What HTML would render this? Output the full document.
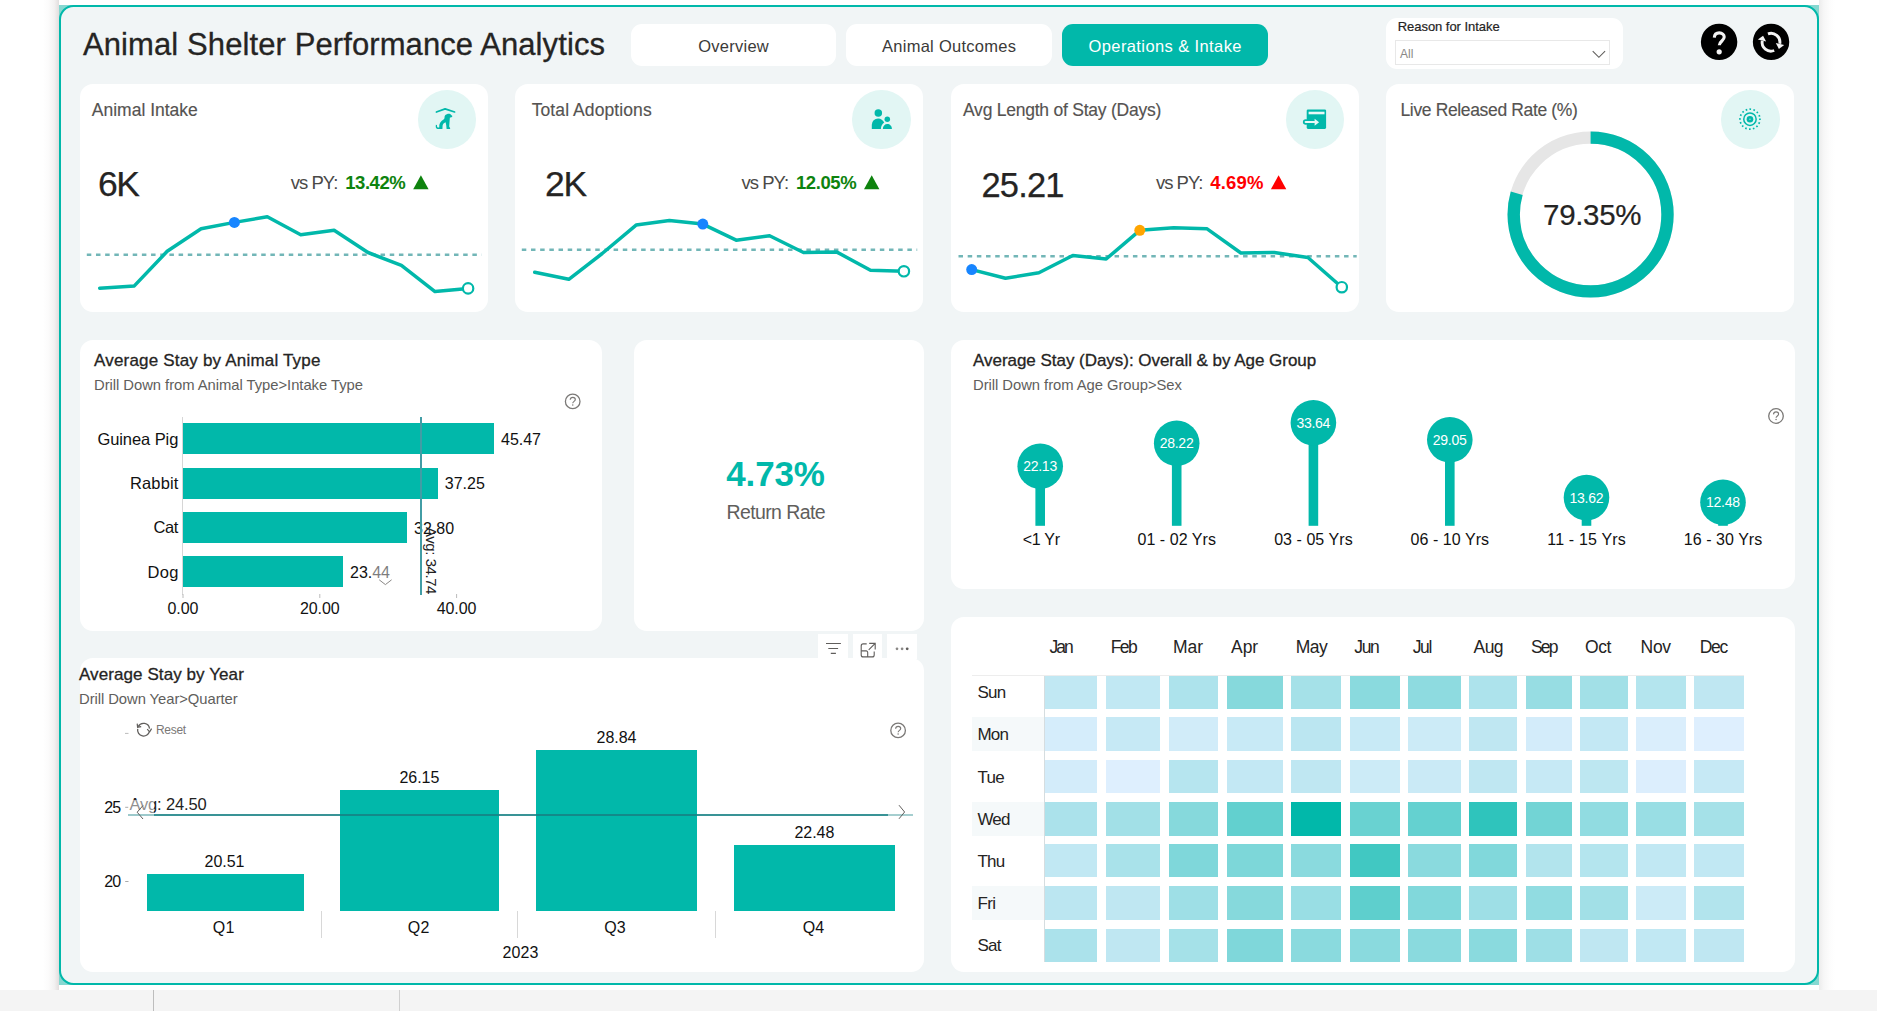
<!DOCTYPE html>
<html><head><meta charset="utf-8"><title>Animal Shelter Performance Analytics</title>
<style>
html,body{margin:0;padding:0;}
body{width:1877px;height:1011px;position:relative;overflow:hidden;background:#fff;font-family:"Liberation Sans",sans-serif;}
.t{position:absolute;white-space:nowrap;}
.b{position:absolute;box-sizing:border-box;}
.ov{position:absolute;left:0;top:0;pointer-events:none;}
</style></head><body>
<div class="b" style="left:43px;top:0px;width:16px;height:990px;background:linear-gradient(to right,rgba(226,222,222,0) 0%,rgba(226,222,222,0.12) 35%,rgba(226,222,222,0.4) 70%,rgba(226,222,222,1) 100%);border-radius:0px;"></div>
<div class="b" style="left:1819px;top:0px;width:16px;height:990px;background:linear-gradient(to left,rgba(236,236,236,0) 0%,rgba(236,236,236,0.15) 35%,rgba(236,236,236,0.45) 70%,rgba(236,236,236,1) 100%);border-radius:0px;"></div>
<div class="b" style="left:0px;top:990px;width:1877px;height:21px;background:#F4F4F4;border-radius:0px;"></div>
<div class="b" style="left:153px;top:990px;width:1px;height:21px;background:#BDBDBD;border-radius:0px;"></div>
<div class="b" style="left:399px;top:990px;width:1px;height:21px;background:#D0D0D0;border-radius:0px;"></div>
<div class="b" style="left:59px;top:5px;width:1760px;height:980px;background:#86D8D1;border-radius:0px;"></div>
<div class="b" style="left:59px;top:5px;width:1760px;height:980px;background:#F1F5F6;border-radius:14.5px;border:2px solid #01B8AA;"></div>
<div class="t" style="left:83.00px;top:28.66px;font-size:31px;line-height:31px;color:#252423;letter-spacing:0.096px;-webkit-text-stroke:0.3px #252423;">Animal Shelter Performance Analytics</div>
<div class="b" style="left:631px;top:24px;width:205px;height:42px;background:#fff;border-radius:11px;"></div>
<div class="t" style="left:698.25px;top:37.93px;font-size:16.5px;line-height:16.5px;color:#3b3a39;letter-spacing:0.248px;">Overview</div>
<div class="b" style="left:846px;top:24px;width:206px;height:42px;background:#fff;border-radius:11px;"></div>
<div class="t" style="left:882.00px;top:37.93px;font-size:16.5px;line-height:16.5px;color:#3b3a39;letter-spacing:0.270px;">Animal Outcomes</div>
<div class="b" style="left:1062px;top:24px;width:206px;height:42px;background:#01B8AA;border-radius:11px;"></div>
<div class="t" style="left:1088.50px;top:37.93px;font-size:16.5px;line-height:16.5px;color:#fff;letter-spacing:0.398px;">Operations &amp; Intake</div>
<div class="b" style="left:1386px;top:18px;width:237px;height:50.5px;background:#fff;border-radius:11px;"></div>
<div class="t" style="left:1397.70px;top:19.80px;font-size:13px;line-height:13px;color:#252423;letter-spacing:-0.039px;-webkit-text-stroke:0.2px #252423;">Reason for Intake</div>
<div class="b" style="left:1395px;top:40px;width:215px;height:24.5px;background:#fff;border-radius:0px;border:1px solid #E8E8E8;"></div>
<div class="t" style="left:1400.00px;top:47.84px;font-size:12px;line-height:12px;color:#8a8886;">All</div>
<svg class="ov" width="1877" height="1011">
<circle cx="1719.1" cy="41.9" r="18.2" fill="#000"/>
<path d="M1714.3,37.6 C1714.5,34.3 1716.6,32.9 1719.3,32.9 C1722.2,32.9 1724.2,34.7 1724.2,37.1 C1724.2,40.6 1719.4,41.4 1719.3,45.2" fill="none" stroke="#F4F4F4" stroke-width="3.1"/>
<circle cx="1719.2" cy="51.8" r="2.6" fill="#F4F4F4"/>
<circle cx="1771.05" cy="41.9" r="18.2" fill="#000"/>
<g transform="rotate(13 1771 42.2)"><path d="M1766.15,34.74 A8.9,8.9 0 0 1 1779.89,41.73" fill="none" stroke="#F4F4F4" stroke-width="2.9"/>
<path d="M1775.98,49.58 A8.9,8.9 0 0 1 1762.11,42.67" fill="none" stroke="#F4F4F4" stroke-width="2.9"/>
<polygon points="1775.9,42.0 1784.5,42.0 1780.2,47.0" fill="#F4F4F4"/>
<polygon points="1757.6,42.6 1766.1,42.6 1761.8,37.6" fill="#F4F4F4"/></g>
<polyline points="1592.7,51.2 1598.9,57.3 1605.1,51.2" fill="none" stroke="#605E5C" stroke-width="1.1"/>
</svg>
<div class="b" style="left:80px;top:84px;width:408px;height:228.2px;background:#fff;border-radius:13px;"></div>
<div class="t" style="left:91.80px;top:101.69px;font-size:17.5px;line-height:17.5px;color:#555351;-webkit-text-stroke:0.15px #555351;">Animal Intake</div>
<div class="b" style="left:417.6px;top:90.2px;width:58.6px;height:58.6px;border-radius:50%;background:#E2F6F4;"></div>
<div class="t" style="left:98.00px;top:167.35px;font-size:35.5px;line-height:35.5px;color:#252423;letter-spacing:-1.422px;-webkit-text-stroke:0.25px #252423;">6K</div>
<div class="t" style="left:290.80px;top:173.54px;font-size:18.5px;line-height:18.5px;color:#4a4947;letter-spacing:-0.988px;">vs PY:</div>
<div class="t" style="left:345.20px;top:173.54px;font-size:18.5px;line-height:18.5px;color:#0E830E;font-weight:bold;letter-spacing:-0.429px;">13.42%</div>
<svg class="ov" width="1877" height="1011"><polygon points="413.2,189.2 428.6,189.2 420.9,175.2" fill="#0E830E"/></svg>
<div class="b" style="left:515px;top:84px;width:408px;height:228.2px;background:#fff;border-radius:13px;"></div>
<div class="t" style="left:531.70px;top:101.69px;font-size:17.5px;line-height:17.5px;color:#555351;letter-spacing:0.093px;-webkit-text-stroke:0.15px #555351;">Total Adoptions</div>
<div class="b" style="left:852.2px;top:90.2px;width:58.6px;height:58.6px;border-radius:50%;background:#E2F6F4;"></div>
<div class="t" style="left:545.00px;top:167.35px;font-size:35.5px;line-height:35.5px;color:#252423;letter-spacing:-1.122px;-webkit-text-stroke:0.25px #252423;">2K</div>
<div class="t" style="left:741.60px;top:173.54px;font-size:18.5px;line-height:18.5px;color:#4a4947;letter-spacing:-0.988px;">vs PY:</div>
<div class="t" style="left:796.00px;top:173.54px;font-size:18.5px;line-height:18.5px;color:#0E830E;font-weight:bold;letter-spacing:-0.429px;">12.05%</div>
<svg class="ov" width="1877" height="1011"><polygon points="864.0,189.2 879.4,189.2 871.7,175.2" fill="#0E830E"/></svg>
<div class="b" style="left:951px;top:84px;width:408px;height:228.2px;background:#fff;border-radius:13px;"></div>
<div class="t" style="left:963.00px;top:101.69px;font-size:17.5px;line-height:17.5px;color:#555351;letter-spacing:-0.236px;-webkit-text-stroke:0.15px #555351;">Avg Length of Stay (Days)</div>
<div class="b" style="left:1285.9px;top:90.2px;width:58.6px;height:58.6px;border-radius:50%;background:#E2F6F4;"></div>
<div class="t" style="left:981.50px;top:168.20px;font-size:34.5px;line-height:34.5px;color:#252423;letter-spacing:-0.834px;-webkit-text-stroke:0.25px #252423;">25.21</div>
<div class="t" style="left:1155.90px;top:173.54px;font-size:18.5px;line-height:18.5px;color:#4a4947;letter-spacing:-0.988px;">vs PY:</div>
<div class="t" style="left:1210.30px;top:173.54px;font-size:18.5px;line-height:18.5px;color:#FF0000;font-weight:bold;letter-spacing:0.186px;">4.69%</div>
<svg class="ov" width="1877" height="1011"><polygon points="1270.9,189.2 1286.3,189.2 1278.6,175.2" fill="#FF0000"/></svg>
<div class="b" style="left:1386px;top:84px;width:408px;height:228.2px;background:#fff;border-radius:13px;"></div>
<div class="t" style="left:1400.50px;top:101.69px;font-size:17.5px;line-height:17.5px;color:#555351;letter-spacing:-0.358px;-webkit-text-stroke:0.15px #555351;">Live Released Rate (%)</div>
<div class="b" style="left:1721.1px;top:90.2px;width:58.6px;height:58.6px;border-radius:50%;background:#E2F6F4;"></div>
<svg class="ov" width="1877" height="1011" viewBox="0 0 1877 1011">
<line x1="86.8" y1="254.8" x2="481.7" y2="254.8" stroke="#72B6B7" stroke-width="2.6" stroke-dasharray="4.5 4.68"/>
<polyline points="99.7,288.2 134.3,285.9 167.2,251.3 201.1,228.8 234.4,222.4 267.3,216.7 300.7,234.7 334.1,230.3 368.0,252.5 401.4,265.4 435.0,291.6 468.1,288.4" fill="none" stroke="#01B8AA" stroke-width="3.5" stroke-linejoin="round" stroke-linecap="round"/>
<circle cx="234.4" cy="222.4" r="5.5" fill="#1785FF"/>
<circle cx="468.1" cy="288.4" r="5.2" fill="#fff" stroke="#01B8AA" stroke-width="2.2"/>
<line x1="521.8" y1="249.8" x2="917.2" y2="249.8" stroke="#72B6B7" stroke-width="2.6" stroke-dasharray="4.5 4.68"/>
<polyline points="534.7,272.3 568.8,279.3 602.2,253.5 636.1,225.1 669.4,220.4 702.8,224.1 736.2,240.2 769.6,235.7 803.5,252.5 836.9,252.1 870.5,270.3 903.9,271.3" fill="none" stroke="#01B8AA" stroke-width="3.5" stroke-linejoin="round" stroke-linecap="round"/>
<circle cx="702.8" cy="224.1" r="5.5" fill="#1785FF"/>
<circle cx="903.9" cy="271.3" r="5.2" fill="#fff" stroke="#01B8AA" stroke-width="2.2"/>
<line x1="958.5" y1="256.3" x2="1356.7" y2="256.3" stroke="#72B6B7" stroke-width="2.6" stroke-dasharray="4.5 4.68"/>
<polyline points="971.7,269.6 1005.5,278.3 1038.9,272.8 1072.8,255.5 1106.2,259.0 1139.8,230.3 1173.7,227.8 1207.1,228.8 1240.9,253.0 1274.3,252.5 1307.9,257.5 1341.8,287.2" fill="none" stroke="#01B8AA" stroke-width="3.5" stroke-linejoin="round" stroke-linecap="round"/>
<circle cx="971.7" cy="269.6" r="5.5" fill="#1785FF"/>
<circle cx="1139.8" cy="230.3" r="5.5" fill="#FFA500"/>
<circle cx="1341.8" cy="287.2" r="5.2" fill="#fff" stroke="#01B8AA" stroke-width="2.2"/>
<circle cx="1590.6" cy="214.5" r="76.9" fill="none" stroke="#E6E6E6" stroke-width="12.4"/>
<circle cx="1590.6" cy="214.5" r="76.9" fill="none" stroke="#01B8AA" stroke-width="12.4" stroke-dasharray="383.40 483.18" transform="rotate(-90 1590.6 214.5)"/>
</svg>
<div class="t" style="left:1543.05px;top:200.33px;font-size:29.5px;line-height:29.5px;color:#252423;letter-spacing:-0.311px;-webkit-text-stroke:0.2px #252423;">79.35%</div>
<svg class="ov" width="1877" height="1011">
<g transform="translate(415,88)" fill="#01B8AA">
<path d="M21.4,24.0 L30.1,20.9 L39.6,24.0" fill="none" stroke="#01B8AA" stroke-width="1.7" stroke-linecap="round" stroke-linejoin="round"/>
<path d="M32.0,26.2 C33.5,25.4 35.5,25.8 36.2,27.0 L37.4,28.0 C37.2,29.2 36,29.6 34.9,29.6 L34.6,33 L34.2,38.5 L35.2,40.3 L35,40.9 L31.6,40.9 L31.2,37 L30.6,34.2 C29.5,34.6 28,35.5 27.6,37.5 L27.4,40.9 L22.5,40.9 C20.8,40.9 20.4,38.6 20.9,36.8 L22.0,36.9 C21.8,38.4 22.2,39.6 23.6,39.5 L24.2,39.4 C24.0,36 25.5,33.2 28.5,31.6 C29.6,31 29.5,29.5 29.6,28.4 C29.8,27.2 30.8,26.5 32.0,26.2 Z"/>
</g>
<g transform="translate(850,88)" fill="#01B8AA">
<circle cx="28.3" cy="24.9" r="3.75"/>
<path d="M21.8,41 L21.8,36.7 A6.3,6.3 0 0 1 28.1,30.4 C31,30.4 33,32 34.2,34.6 C32.2,36 31,38.5 30.9,41 Z"/>
<circle cx="37.3" cy="31.2" r="2.75"/>
<path d="M32.8,41 C32.8,38 34.8,36 37.35,36 C39.9,36 41.9,38 41.9,41 Z"/>
</g>
<g transform="translate(1283,88)">
<rect x="23.7" y="21.5" width="19.4" height="19.4" rx="1.3" fill="#01B8AA"/>
<rect x="19.9" y="31.2" width="6" height="5.6" rx="2.8" fill="#01B8AA"/>
<rect x="25.6" y="23.7" width="15.9" height="2.6" fill="#E9F8F7"/>
<rect x="21.6" y="32.9" width="11" height="2.2" rx="1.1" fill="#E9F8F7"/>
<polygon points="31.6,30.7 36.1,34.2 31.6,37.7" fill="#E9F8F7"/>
</g>
<g transform="translate(1718,88)">
<circle cx="31.96" cy="31.2" r="3.3" fill="#01B8AA"/>
<circle cx="31.96" cy="31.2" r="0.8" fill="#9ADFDA"/>
<circle cx="31.96" cy="31.2" r="6.2" fill="none" stroke="#01B8AA" stroke-width="1.5"/>
<circle cx="31.96" cy="31.2" r="10" fill="none" stroke="#01B8AA" stroke-width="1.7" stroke-dasharray="1.6 2.327" transform="rotate(-4.3 31.96 31.2)"/>
</g>
</svg>
<div class="b" style="left:80px;top:340px;width:522px;height:290.5px;background:#fff;border-radius:13px;"></div>
<div class="t" style="left:94.00px;top:351.61px;font-size:17px;line-height:17px;color:#252423;letter-spacing:0.190px;-webkit-text-stroke:0.3px #252423;">Average Stay by Animal Type</div>
<div class="t" style="left:94.00px;top:378.17px;font-size:14.8px;line-height:14.8px;color:#605E5C;letter-spacing:-0.040px;">Drill Down from Animal Type&gt;Intake Type</div>
<svg class="ov" width="1877" height="1011"><g transform="translate(572.7,401.4)" fill="none" stroke="#7b7977"><circle cx="0" cy="0" r="7.3" fill="#fff" stroke-width="1.3"/><path d="M-2.5,-1.6 C-2.4,-3.3 -1.2,-4.1 0.1,-4.1 C1.6,-4.1 2.6,-3.2 2.6,-1.9 C2.6,-0.1 0.1,0 0.05,1.8" stroke-width="1.15"/><circle cx="0.05" cy="3.6" r="0.75" fill="#7b7977" stroke="none"/></g></svg>
<div class="b" style="left:182.3px;top:417px;width:1px;height:178px;background:#D6D6D6;border-radius:0px;"></div>
<div class="b" style="left:183px;top:423.2px;width:311.2px;height:31.2px;background:#01B8AA;border-radius:0px;"></div>
<div class="t" style="left:97.40px;top:430.63px;font-size:16.5px;line-height:16.5px;color:#111;letter-spacing:-0.071px;">Guinea Pig</div>
<div class="t" style="left:501.00px;top:431.76px;font-size:16px;line-height:16px;color:#111;letter-spacing:-0.010px;">45.47</div>
<div class="b" style="left:183px;top:467.6px;width:255px;height:31.2px;background:#01B8AA;border-radius:0px;"></div>
<div class="t" style="left:129.90px;top:475.03px;font-size:16.5px;line-height:16.5px;color:#111;letter-spacing:0.161px;">Rabbit</div>
<div class="t" style="left:444.80px;top:476.16px;font-size:16px;line-height:16px;color:#111;letter-spacing:-0.010px;">37.25</div>
<div class="b" style="left:183px;top:512px;width:224.3px;height:31.2px;background:#01B8AA;border-radius:0px;"></div>
<div class="t" style="left:153.40px;top:519.43px;font-size:16.5px;line-height:16.5px;color:#111;letter-spacing:-0.339px;">Cat</div>
<div class="t" style="left:414.10px;top:520.56px;font-size:16px;line-height:16px;color:#111;letter-spacing:-0.010px;">32.80</div>
<div class="b" style="left:183px;top:556.2px;width:160.2px;height:31.2px;background:#01B8AA;border-radius:0px;"></div>
<div class="t" style="left:147.40px;top:563.63px;font-size:16.5px;line-height:16.5px;color:#111;letter-spacing:0.365px;">Dog</div>
<div class="t" style="left:350.00px;top:564.76px;font-size:16px;line-height:16px;color:#111;letter-spacing:-0.010px;">23.44</div>
<div class="b" style="left:420px;top:417px;width:1.5px;height:177.5px;background:#429DA5;border-radius:0px;"></div>
<div class="t" style="left:425.6px;top:527.3px;font-size:15px;line-height:15px;color:#222;transform-origin:0 0;transform:rotate(90deg) translate(0,-12.7px);letter-spacing:-0.45px;">Avg: 34.74</div>
<div class="b" style="left:372px;top:562px;width:20px;height:18px;background:rgba(255,255,255,0.45);border-radius:0px;"></div>
<svg class="ov" width="1877" height="1011"><polyline points="379.2,579.8 385.4,584.6 391.6,579.8" fill="none" stroke="#8a8886" stroke-width="1"/><line x1="319.8" y1="594" x2="319.8" y2="598" stroke="#bbb" stroke-width="1"/><line x1="456.6" y1="594" x2="456.6" y2="598" stroke="#bbb" stroke-width="1"/><line x1="183" y1="594" x2="183" y2="598" stroke="#bbb" stroke-width="1"/></svg>
<div class="t" style="left:167.50px;top:600.66px;font-size:16px;line-height:16px;color:#111;letter-spacing:-0.047px;">0.00</div>
<div class="t" style="left:300.00px;top:600.66px;font-size:16px;line-height:16px;color:#111;letter-spacing:-0.110px;">20.00</div>
<div class="t" style="left:436.80px;top:600.66px;font-size:16px;line-height:16px;color:#111;letter-spacing:-0.110px;">40.00</div>
<div class="b" style="left:634px;top:340px;width:289.5px;height:290.5px;background:#fff;border-radius:13px;"></div>
<div class="t" style="left:726.20px;top:455.97px;font-size:35px;line-height:35px;color:#01B8AA;font-weight:bold;letter-spacing:-0.111px;">4.73%</div>
<div class="t" style="left:726.40px;top:502.69px;font-size:19.5px;line-height:19.5px;color:#605E5C;letter-spacing:-0.594px;">Return Rate</div>
<div class="b" style="left:818.2px;top:633.6px;width:29.8px;height:25px;background:#fff;border-radius:0px;"></div>
<div class="b" style="left:853px;top:633.6px;width:29px;height:25px;background:#fff;border-radius:0px;"></div>
<div class="b" style="left:886.9px;top:633.6px;width:30.2px;height:25px;background:#fff;border-radius:0px;"></div>
<svg class="ov" width="1877" height="1011" fill="none" stroke="#605E5C" stroke-width="1.1">
<path d="M826,643.5 H840.9 M828.3,648.5 H838.1 M830.8,653.4 H835.9" stroke-width="1.2"/>
<g transform="translate(0.2,0.9)"><path d="M866.5,643 H863 a2,2 0 0 0 -2,2 V654 a2,2 0 0 0 2,2 H872 a2,2 0 0 0 2,-2 V650.5"/>
<path d="M861,650 H866 a1.5,1.5 0 0 1 1.5,1.5 V656"/>
<path d="M869,642.5 H875 V648.5 M875,642.5 L868.5,649"/></g>
<g fill="#605E5C" stroke="none"><circle cx="897" cy="648.8" r="1.35" fill="#8a8886"/><circle cx="902.1" cy="648.8" r="1.35" fill="#8a8886"/><circle cx="907.2" cy="648.8" r="1.4"/></g>
</svg>
<div class="b" style="left:951px;top:340px;width:843.5px;height:249px;background:#fff;border-radius:13px;"></div>
<div class="t" style="left:973.00px;top:351.61px;font-size:17px;line-height:17px;color:#252423;letter-spacing:-0.033px;-webkit-text-stroke:0.3px #252423;">Average Stay (Days): Overall &amp; by Age Group</div>
<div class="t" style="left:973.00px;top:377.57px;font-size:14.8px;line-height:14.8px;color:#605E5C;letter-spacing:-0.042px;">Drill Down from Age Group&gt;Sex</div>
<svg class="ov" width="1877" height="1011"><g transform="translate(1776,416)" fill="none" stroke="#7b7977"><circle cx="0" cy="0" r="7.3" fill="#fff" stroke-width="1.3"/><path d="M-2.5,-1.6 C-2.4,-3.3 -1.2,-4.1 0.1,-4.1 C1.6,-4.1 2.6,-3.2 2.6,-1.9 C2.6,-0.1 0.1,0 0.05,1.8" stroke-width="1.15"/><circle cx="0.05" cy="3.6" r="0.75" fill="#7b7977" stroke="none"/></g></svg>
<svg class="ov" width="1877" height="1011" viewBox="0 0 1877 1011">
<rect x="1035.4" y="466.2" width="9.6" height="59.6" fill="#01B8AA"/>
<circle cx="1040.2" cy="466.2" r="22.8" fill="#01B8AA"/>
<rect x="1171.9" y="443.3" width="9.6" height="82.5" fill="#01B8AA"/>
<circle cx="1176.7" cy="443.3" r="22.8" fill="#01B8AA"/>
<rect x="1308.6" y="422.7" width="9.6" height="103.1" fill="#01B8AA"/>
<circle cx="1313.4" cy="422.7" r="22.8" fill="#01B8AA"/>
<rect x="1445.0" y="439.8" width="9.6" height="86.0" fill="#01B8AA"/>
<circle cx="1449.8" cy="439.8" r="22.8" fill="#01B8AA"/>
<rect x="1581.7" y="497.6" width="9.6" height="28.2" fill="#01B8AA"/>
<circle cx="1586.5" cy="497.6" r="22.8" fill="#01B8AA"/>
<rect x="1718.2" y="502.2" width="9.6" height="23.6" fill="#01B8AA"/>
<circle cx="1723" cy="502.2" r="22.8" fill="#01B8AA"/>
</svg>
<div class="t" style="left:1023.20px;top:459.25px;font-size:14px;line-height:14px;color:#fff;letter-spacing:-0.259px;">22.13</div>
<div class="t" style="left:1022.65px;top:531.76px;font-size:16px;line-height:16px;color:#111;letter-spacing:-0.225px;">&lt;1 Yr</div>
<div class="t" style="left:1159.70px;top:436.35px;font-size:14px;line-height:14px;color:#fff;letter-spacing:-0.259px;">28.22</div>
<div class="t" style="left:1137.45px;top:531.76px;font-size:16px;line-height:16px;color:#111;letter-spacing:0.053px;">01 - 02 Yrs</div>
<div class="t" style="left:1296.40px;top:415.75px;font-size:14px;line-height:14px;color:#fff;letter-spacing:-0.259px;">33.64</div>
<div class="t" style="left:1274.15px;top:531.76px;font-size:16px;line-height:16px;color:#111;letter-spacing:0.053px;">03 - 05 Yrs</div>
<div class="t" style="left:1432.80px;top:432.85px;font-size:14px;line-height:14px;color:#fff;letter-spacing:-0.259px;">29.05</div>
<div class="t" style="left:1410.55px;top:531.76px;font-size:16px;line-height:16px;color:#111;letter-spacing:0.053px;">06 - 10 Yrs</div>
<div class="t" style="left:1569.50px;top:490.65px;font-size:14px;line-height:14px;color:#fff;letter-spacing:-0.259px;">13.62</div>
<div class="t" style="left:1547.25px;top:531.76px;font-size:16px;line-height:16px;color:#111;letter-spacing:0.172px;">11 - 15 Yrs</div>
<div class="t" style="left:1706.00px;top:495.25px;font-size:14px;line-height:14px;color:#fff;letter-spacing:-0.259px;">12.48</div>
<div class="t" style="left:1683.75px;top:531.76px;font-size:16px;line-height:16px;color:#111;letter-spacing:0.053px;">16 - 30 Yrs</div>
<div class="b" style="left:80px;top:658px;width:843.5px;height:314px;background:#fff;border-radius:13px;"></div>
<div class="t" style="left:79.00px;top:665.81px;font-size:17px;line-height:17px;color:#252423;letter-spacing:0.084px;-webkit-text-stroke:0.3px #252423;">Average Stay by Year</div>
<div class="t" style="left:79.00px;top:691.87px;font-size:14.8px;line-height:14.8px;color:#605E5C;letter-spacing:-0.059px;">Drill Down Year&gt;Quarter</div>
<svg class="ov" width="1877" height="1011"><g transform="translate(898.1,730.4)" fill="none" stroke="#7b7977"><circle cx="0" cy="0" r="7.3" fill="#fff" stroke-width="1.3"/><path d="M-2.5,-1.6 C-2.4,-3.3 -1.2,-4.1 0.1,-4.1 C1.6,-4.1 2.6,-3.2 2.6,-1.9 C2.6,-0.1 0.1,0 0.05,1.8" stroke-width="1.15"/><circle cx="0.05" cy="3.6" r="0.75" fill="#7b7977" stroke="none"/></g></svg>
<svg class="ov" width="1877" height="1011" fill="none" stroke="#605E5C" stroke-width="1.3">
<path d="M138.2,726.6 A6,6 0 0 1 149.5,728.6"/><path d="M149.5,731.2 A6,6 0 0 1 137.7,728.8"/>
<path d="M147.2,729.2 L149.7,731.8 L151.6,728.6" stroke-width="1.2"/><path d="M137.2,723.6 L137.6,727.2 L141.2,726.6" stroke-width="1.2"/>
<line x1="125" y1="733.4" x2="128.5" y2="733.4" stroke="#bbb" stroke-width="1"/>
<line x1="125.2" y1="807.3" x2="128.5" y2="807.3" stroke="#aaa" stroke-width="1"/>
<line x1="125.2" y1="881.5" x2="128.5" y2="881.5" stroke="#aaa" stroke-width="1"/>
</svg>
<div class="t" style="left:155.90px;top:724.04px;font-size:12px;line-height:12px;color:#7a7876;letter-spacing:-0.262px;">Reset</div>
<div class="t" style="left:104.30px;top:800.06px;font-size:16px;line-height:16px;color:#111;letter-spacing:-0.898px;">25</div>
<div class="t" style="left:104.30px;top:874.46px;font-size:16px;line-height:16px;color:#111;letter-spacing:-0.898px;">20</div>
<div class="b" style="left:147px;top:873.8px;width:156.5px;height:36.8px;background:#01B8AA;border-radius:0px;"></div>
<div class="t" style="left:204.60px;top:853.56px;font-size:16px;line-height:16px;color:#111;letter-spacing:-0.060px;">20.51</div>
<div class="t" style="left:212.85px;top:919.66px;font-size:16px;line-height:16px;color:#111;letter-spacing:0.156px;">Q1</div>
<div class="b" style="left:340px;top:790px;width:158.8px;height:120.6px;background:#01B8AA;border-radius:0px;"></div>
<div class="t" style="left:399.50px;top:769.76px;font-size:16px;line-height:16px;color:#111;letter-spacing:-0.060px;">26.15</div>
<div class="t" style="left:407.85px;top:919.66px;font-size:16px;line-height:16px;color:#111;letter-spacing:0.156px;">Q2</div>
<div class="b" style="left:535.9px;top:750.1px;width:161.2px;height:160.5px;background:#01B8AA;border-radius:0px;"></div>
<div class="t" style="left:596.60px;top:729.86px;font-size:16px;line-height:16px;color:#111;letter-spacing:-0.060px;">28.84</div>
<div class="t" style="left:604.25px;top:919.66px;font-size:16px;line-height:16px;color:#111;letter-spacing:0.156px;">Q3</div>
<div class="b" style="left:733.9px;top:844.8px;width:161.0px;height:65.8px;background:#01B8AA;border-radius:0px;"></div>
<div class="t" style="left:794.50px;top:824.56px;font-size:16px;line-height:16px;color:#111;letter-spacing:-0.060px;">22.48</div>
<div class="t" style="left:802.65px;top:919.66px;font-size:16px;line-height:16px;color:#111;letter-spacing:0.156px;">Q4</div>
<div class="t" style="left:502.40px;top:944.66px;font-size:16px;line-height:16px;color:#111;letter-spacing:0.135px;">2023</div>
<div class="b" style="left:321.1px;top:911px;width:1px;height:27px;background:#D8D8D8;border-radius:0px;"></div>
<div class="b" style="left:517.1px;top:911px;width:1px;height:27px;background:#D8D8D8;border-radius:0px;"></div>
<div class="b" style="left:714.9px;top:911px;width:1px;height:27px;background:#D8D8D8;border-radius:0px;"></div>
<div class="t" style="left:129.40px;top:796.03px;font-size:16.5px;line-height:16.5px;color:#222;letter-spacing:-0.155px;">Avg: 24.50</div>
<div class="b" style="left:128.2px;top:813.9px;width:785px;height:2px;background:rgba(22,128,132,0.85);border-radius:0px;"></div>
<div class="b" style="left:128.2px;top:800px;width:26px;height:20px;background:rgba(255,255,255,0.5);border-radius:0px;"></div>
<div class="b" style="left:888px;top:803px;width:25.5px;height:18px;background:rgba(255,255,255,0.55);border-radius:0px;"></div>
<svg class="ov" width="1877" height="1011" fill="none" stroke="#605E5C" stroke-width="1">
<polyline points="143,805.5 137.2,812.2 143,819"/><polyline points="899,805.2 904.6,812 899,818.8"/></svg>
<div class="b" style="left:951px;top:617px;width:843.5px;height:354.5px;background:#fff;border-radius:13px;"></div>
<div class="b" style="left:972px;top:674.5px;width:772.2px;height:1.3px;background:#EDEDED;border-radius:0px;"></div>
<div class="b" style="left:1044px;top:675.9px;width:1px;height:286px;background:#D5DDE0;border-radius:0px;"></div>
<div class="t" style="left:977.40px;top:684.26px;font-size:17px;line-height:17px;color:#252423;letter-spacing:-0.745px;">Sun</div>
<div class="b" style="left:1044.9px;top:676.0px;width:52.3px;height:32.9px;background:#C1E8F3;border-radius:0px;"></div>
<div class="b" style="left:1105.7px;top:676.0px;width:54.5px;height:32.9px;background:#C1E8F3;border-radius:0px;"></div>
<div class="b" style="left:1168.7px;top:676.0px;width:49.3px;height:32.9px;background:#ADE3EC;border-radius:0px;"></div>
<div class="b" style="left:1226.6px;top:676.0px;width:56.3px;height:32.9px;background:#86D9DC;border-radius:0px;"></div>
<div class="b" style="left:1291px;top:676.0px;width:50.4px;height:32.9px;background:#A5E1E8;border-radius:0px;"></div>
<div class="b" style="left:1350px;top:676.0px;width:49.9px;height:32.9px;background:#8ADADE;border-radius:0px;"></div>
<div class="b" style="left:1408.2px;top:676.0px;width:52.9px;height:32.9px;background:#8EDBE0;border-radius:0px;"></div>
<div class="b" style="left:1469.2px;top:676.0px;width:48.3px;height:32.9px;background:#ADE3EC;border-radius:0px;"></div>
<div class="b" style="left:1526.1px;top:676.0px;width:45.6px;height:32.9px;background:#97DDE3;border-radius:0px;"></div>
<div class="b" style="left:1580px;top:676.0px;width:47.5px;height:32.9px;background:#A2E0E7;border-radius:0px;"></div>
<div class="b" style="left:1636px;top:676.0px;width:50.2px;height:32.9px;background:#B4E5EE;border-radius:0px;"></div>
<div class="b" style="left:1694.2px;top:676.0px;width:50.0px;height:32.9px;background:#BFE7F2;border-radius:0px;"></div>
<div class="b" style="left:972px;top:717.1px;width:72px;height:34.4px;background:#F5F9FA;border-radius:0px;"></div>
<div class="t" style="left:977.40px;top:726.11px;font-size:17px;line-height:17px;color:#252423;letter-spacing:-0.786px;">Mon</div>
<div class="b" style="left:1044.9px;top:717.1px;width:52.3px;height:34.4px;background:#D5EDFB;border-radius:0px;"></div>
<div class="b" style="left:1105.7px;top:717.1px;width:54.5px;height:34.4px;background:#C6E9F5;border-radius:0px;"></div>
<div class="b" style="left:1168.7px;top:717.1px;width:49.3px;height:34.4px;background:#D1ECF9;border-radius:0px;"></div>
<div class="b" style="left:1226.6px;top:717.1px;width:56.3px;height:34.4px;background:#C8EAF6;border-radius:0px;"></div>
<div class="b" style="left:1291px;top:717.1px;width:50.4px;height:34.4px;background:#BBE6F1;border-radius:0px;"></div>
<div class="b" style="left:1350px;top:717.1px;width:49.9px;height:34.4px;background:#C8EAF6;border-radius:0px;"></div>
<div class="b" style="left:1408.2px;top:717.1px;width:52.9px;height:34.4px;background:#CCEBF7;border-radius:0px;"></div>
<div class="b" style="left:1469.2px;top:717.1px;width:48.3px;height:34.4px;background:#BFE7F2;border-radius:0px;"></div>
<div class="b" style="left:1526.1px;top:717.1px;width:45.6px;height:34.4px;background:#D3ECFA;border-radius:0px;"></div>
<div class="b" style="left:1580px;top:717.1px;width:47.5px;height:34.4px;background:#C3E8F4;border-radius:0px;"></div>
<div class="b" style="left:1636px;top:717.1px;width:50.2px;height:34.4px;background:#DAEEFC;border-radius:0px;"></div>
<div class="b" style="left:1694.2px;top:717.1px;width:50.0px;height:34.4px;background:#DEEFFE;border-radius:0px;"></div>
<div class="t" style="left:977.40px;top:768.51px;font-size:17px;line-height:17px;color:#252423;letter-spacing:-0.722px;">Tue</div>
<div class="b" style="left:1044.9px;top:760.1px;width:52.3px;height:33.2px;background:#D3ECFA;border-radius:0px;"></div>
<div class="b" style="left:1105.7px;top:760.1px;width:54.5px;height:33.2px;background:#DEEFFE;border-radius:0px;"></div>
<div class="b" style="left:1168.7px;top:760.1px;width:49.3px;height:33.2px;background:#B6E5EF;border-radius:0px;"></div>
<div class="b" style="left:1226.6px;top:760.1px;width:56.3px;height:33.2px;background:#C3E8F4;border-radius:0px;"></div>
<div class="b" style="left:1291px;top:760.1px;width:50.4px;height:33.2px;background:#BFE7F2;border-radius:0px;"></div>
<div class="b" style="left:1350px;top:760.1px;width:49.9px;height:33.2px;background:#CCEBF7;border-radius:0px;"></div>
<div class="b" style="left:1408.2px;top:760.1px;width:52.9px;height:33.2px;background:#CAEAF6;border-radius:0px;"></div>
<div class="b" style="left:1469.2px;top:760.1px;width:48.3px;height:33.2px;background:#BFE7F2;border-radius:0px;"></div>
<div class="b" style="left:1526.1px;top:760.1px;width:45.6px;height:33.2px;background:#C6E9F5;border-radius:0px;"></div>
<div class="b" style="left:1580px;top:760.1px;width:47.5px;height:33.2px;background:#BDE7F1;border-radius:0px;"></div>
<div class="b" style="left:1636px;top:760.1px;width:50.2px;height:33.2px;background:#DCEEFD;border-radius:0px;"></div>
<div class="b" style="left:1694.2px;top:760.1px;width:50.0px;height:33.2px;background:#C6E9F5;border-radius:0px;"></div>
<div class="b" style="left:972px;top:801.9px;width:72px;height:33.9px;background:#F5F9FA;border-radius:0px;"></div>
<div class="t" style="left:977.40px;top:810.66px;font-size:17px;line-height:17px;color:#252423;letter-spacing:-0.810px;">Wed</div>
<div class="b" style="left:1044.9px;top:801.9px;width:52.3px;height:33.9px;background:#ABE2EB;border-radius:0px;"></div>
<div class="b" style="left:1105.7px;top:801.9px;width:54.5px;height:33.9px;background:#A2E0E7;border-radius:0px;"></div>
<div class="b" style="left:1168.7px;top:801.9px;width:49.3px;height:33.9px;background:#86D9DC;border-radius:0px;"></div>
<div class="b" style="left:1226.6px;top:801.9px;width:56.3px;height:33.9px;background:#62D0CF;border-radius:0px;"></div>
<div class="b" style="left:1291px;top:801.9px;width:50.4px;height:33.9px;background:#01B8AA;border-radius:0px;"></div>
<div class="b" style="left:1350px;top:801.9px;width:49.9px;height:33.9px;background:#69D2D1;border-radius:0px;"></div>
<div class="b" style="left:1408.2px;top:801.9px;width:52.9px;height:33.9px;background:#64D1D0;border-radius:0px;"></div>
<div class="b" style="left:1469.2px;top:801.9px;width:48.3px;height:33.9px;background:#2FC4BC;border-radius:0px;"></div>
<div class="b" style="left:1526.1px;top:801.9px;width:45.6px;height:33.9px;background:#72D4D5;border-radius:0px;"></div>
<div class="b" style="left:1580px;top:801.9px;width:47.5px;height:33.9px;background:#91DCE1;border-radius:0px;"></div>
<div class="b" style="left:1636px;top:801.9px;width:50.2px;height:33.9px;background:#99DEE4;border-radius:0px;"></div>
<div class="b" style="left:1694.2px;top:801.9px;width:50.0px;height:33.9px;background:#A5E1E8;border-radius:0px;"></div>
<div class="t" style="left:977.40px;top:852.66px;font-size:17px;line-height:17px;color:#252423;letter-spacing:-0.731px;">Thu</div>
<div class="b" style="left:1044.9px;top:844.2px;width:52.3px;height:33.3px;background:#C1E8F3;border-radius:0px;"></div>
<div class="b" style="left:1105.7px;top:844.2px;width:54.5px;height:33.3px;background:#A9E2EA;border-radius:0px;"></div>
<div class="b" style="left:1168.7px;top:844.2px;width:49.3px;height:33.3px;background:#7FD7DA;border-radius:0px;"></div>
<div class="b" style="left:1226.6px;top:844.2px;width:56.3px;height:33.3px;background:#7DD7D9;border-radius:0px;"></div>
<div class="b" style="left:1291px;top:844.2px;width:50.4px;height:33.3px;background:#8ADADE;border-radius:0px;"></div>
<div class="b" style="left:1350px;top:844.2px;width:49.9px;height:33.3px;background:#41C8C2;border-radius:0px;"></div>
<div class="b" style="left:1408.2px;top:844.2px;width:52.9px;height:33.3px;background:#8ADADE;border-radius:0px;"></div>
<div class="b" style="left:1469.2px;top:844.2px;width:48.3px;height:33.3px;background:#81D8DB;border-radius:0px;"></div>
<div class="b" style="left:1526.1px;top:844.2px;width:45.6px;height:33.3px;background:#B2E4ED;border-radius:0px;"></div>
<div class="b" style="left:1580px;top:844.2px;width:47.5px;height:33.3px;background:#B4E5EE;border-radius:0px;"></div>
<div class="b" style="left:1636px;top:844.2px;width:50.2px;height:33.3px;background:#C1E8F3;border-radius:0px;"></div>
<div class="b" style="left:1694.2px;top:844.2px;width:50.0px;height:33.3px;background:#C1E8F3;border-radius:0px;"></div>
<div class="b" style="left:972px;top:886.1px;width:72px;height:33.8px;background:#F5F9FA;border-radius:0px;"></div>
<div class="t" style="left:977.40px;top:894.81px;font-size:17px;line-height:17px;color:#252423;letter-spacing:-0.592px;">Fri</div>
<div class="b" style="left:1044.9px;top:886.1px;width:52.3px;height:33.8px;background:#BBE6F1;border-radius:0px;"></div>
<div class="b" style="left:1105.7px;top:886.1px;width:54.5px;height:33.8px;background:#BFE7F2;border-radius:0px;"></div>
<div class="b" style="left:1168.7px;top:886.1px;width:49.3px;height:33.8px;background:#9EDFE6;border-radius:0px;"></div>
<div class="b" style="left:1226.6px;top:886.1px;width:56.3px;height:33.8px;background:#86D9DC;border-radius:0px;"></div>
<div class="b" style="left:1291px;top:886.1px;width:50.4px;height:33.8px;background:#99DEE4;border-radius:0px;"></div>
<div class="b" style="left:1350px;top:886.1px;width:49.9px;height:33.8px;background:#5ECFCD;border-radius:0px;"></div>
<div class="b" style="left:1408.2px;top:886.1px;width:52.9px;height:33.8px;background:#81D8DB;border-radius:0px;"></div>
<div class="b" style="left:1469.2px;top:886.1px;width:48.3px;height:33.8px;background:#9EDFE6;border-radius:0px;"></div>
<div class="b" style="left:1526.1px;top:886.1px;width:45.6px;height:33.8px;background:#91DCE1;border-radius:0px;"></div>
<div class="b" style="left:1580px;top:886.1px;width:47.5px;height:33.8px;background:#A2E0E7;border-radius:0px;"></div>
<div class="b" style="left:1636px;top:886.1px;width:50.2px;height:33.8px;background:#CCEBF7;border-radius:0px;"></div>
<div class="b" style="left:1694.2px;top:886.1px;width:50.0px;height:33.8px;background:#B2E4ED;border-radius:0px;"></div>
<div class="t" style="left:977.40px;top:937.11px;font-size:17px;line-height:17px;color:#252423;letter-spacing:-0.675px;">Sat</div>
<div class="b" style="left:1044.9px;top:928.8px;width:52.3px;height:33.0px;background:#ABE2EB;border-radius:0px;"></div>
<div class="b" style="left:1105.7px;top:928.8px;width:54.5px;height:33.0px;background:#BFE7F2;border-radius:0px;"></div>
<div class="b" style="left:1168.7px;top:928.8px;width:49.3px;height:33.0px;background:#A5E1E8;border-radius:0px;"></div>
<div class="b" style="left:1226.6px;top:928.8px;width:56.3px;height:33.0px;background:#7FD7DA;border-radius:0px;"></div>
<div class="b" style="left:1291px;top:928.8px;width:50.4px;height:33.0px;background:#8ADADE;border-radius:0px;"></div>
<div class="b" style="left:1350px;top:928.8px;width:49.9px;height:33.0px;background:#8ADADE;border-radius:0px;"></div>
<div class="b" style="left:1408.2px;top:928.8px;width:52.9px;height:33.0px;background:#8ADADE;border-radius:0px;"></div>
<div class="b" style="left:1469.2px;top:928.8px;width:48.3px;height:33.0px;background:#8ADADE;border-radius:0px;"></div>
<div class="b" style="left:1526.1px;top:928.8px;width:45.6px;height:33.0px;background:#9EDFE6;border-radius:0px;"></div>
<div class="b" style="left:1580px;top:928.8px;width:47.5px;height:33.0px;background:#BFE7F2;border-radius:0px;"></div>
<div class="b" style="left:1636px;top:928.8px;width:50.2px;height:33.0px;background:#C1E8F3;border-radius:0px;"></div>
<div class="b" style="left:1694.2px;top:928.8px;width:50.0px;height:33.0px;background:#BFE7F2;border-radius:0px;"></div>
<div class="t" style="left:1049.40px;top:639.29px;font-size:17.5px;line-height:17.5px;color:#252423;letter-spacing:-1.958px;">Jan</div>
<div class="t" style="left:1110.70px;top:639.29px;font-size:17.5px;line-height:17.5px;color:#252423;letter-spacing:-1.578px;">Feb</div>
<div class="t" style="left:1173.00px;top:639.29px;font-size:17.5px;line-height:17.5px;color:#252423;letter-spacing:-0.069px;">Mar</div>
<div class="t" style="left:1231.10px;top:639.29px;font-size:17.5px;line-height:17.5px;color:#252423;letter-spacing:-0.117px;">Apr</div>
<div class="t" style="left:1295.70px;top:639.29px;font-size:17.5px;line-height:17.5px;color:#252423;letter-spacing:-0.530px;">May</div>
<div class="t" style="left:1354.30px;top:639.29px;font-size:17.5px;line-height:17.5px;color:#252423;letter-spacing:-1.358px;">Jun</div>
<div class="t" style="left:1412.80px;top:639.29px;font-size:17.5px;line-height:17.5px;color:#252423;letter-spacing:-1.436px;">Jul</div>
<div class="t" style="left:1473.60px;top:639.29px;font-size:17.5px;line-height:17.5px;color:#252423;letter-spacing:-0.569px;">Aug</div>
<div class="t" style="left:1531.00px;top:639.29px;font-size:17.5px;line-height:17.5px;color:#252423;letter-spacing:-1.819px;">Sep</div>
<div class="t" style="left:1584.90px;top:639.29px;font-size:17.5px;line-height:17.5px;color:#252423;letter-spacing:-0.362px;">Oct</div>
<div class="t" style="left:1640.60px;top:639.29px;font-size:17.5px;line-height:17.5px;color:#252423;letter-spacing:-0.311px;">Nov</div>
<div class="t" style="left:1699.70px;top:639.29px;font-size:17.5px;line-height:17.5px;color:#252423;letter-spacing:-1.311px;">Dec</div>
</body></html>
